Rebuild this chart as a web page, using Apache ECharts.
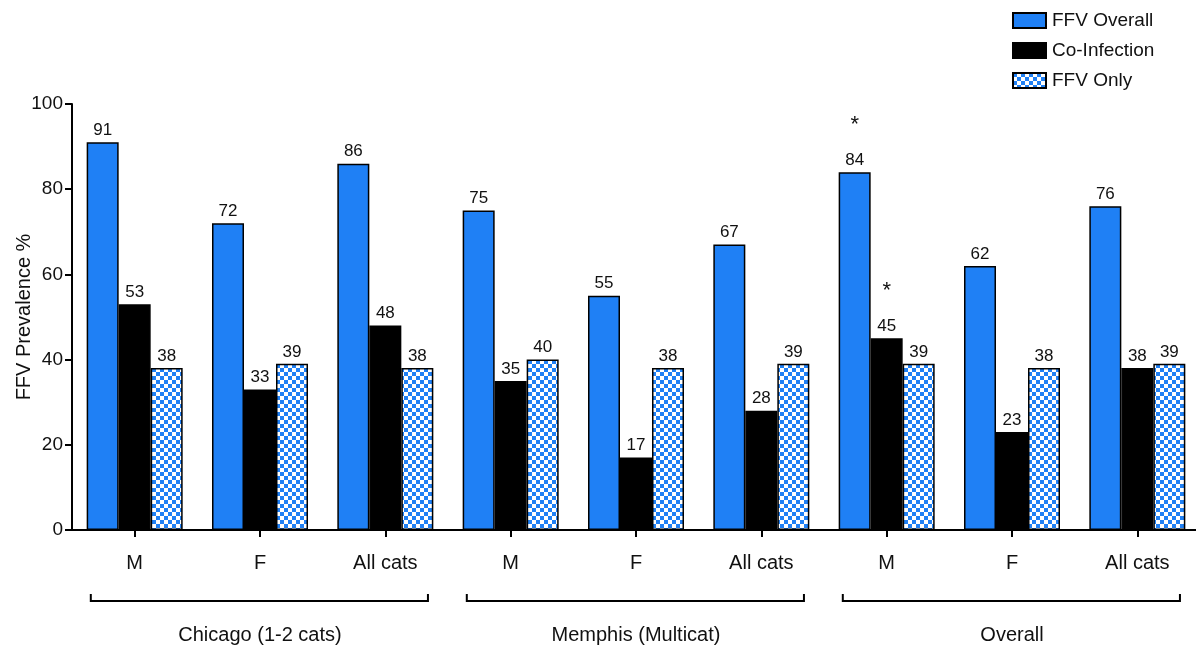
<!DOCTYPE html>
<html>
<head>
<meta charset="utf-8">
<script src="https://cdn.jsdelivr.net/npm/echarts@6/dist/echarts.min.js"></script>
<style>
  html, body { margin: 0; padding: 0; background: #fff; }
  #chart { width: 1196px; height: 648px; }
</style>
</head>
<body>
<div id="chart"></div>
<script>
// Category labels along the x axis and the three site groups they belong to
const categories = ['M', 'F', 'All cats', 'M', 'F', 'All cats', 'M', 'F', 'All cats'];
const groupNames = ['Chicago (1-2 cats)', 'Memphis (Multicat)', 'Overall'];
const groupSize = 3;

// Prevalence values (%) per series
const ffvOverall = [91, 72, 86, 75, 55, 67, 84, 62, 76];
const coInfection = [53, 33, 48, 35, 17, 28, 45, 23, 38];
const ffvOnly = [38, 39, 38, 40, 38, 39, 39, 38, 39];

// Significance markers shown above a bar's value
const ffvOverallSig = ['', '', '', '', '', '', '*', '', ''];
const coInfectionSig = ['', '', '', '', '', '', '*', '', ''];

// Y axis ticks
const yTicks = [0, 20, 40, 60, 80, 100];

const FONT = '"Liberation Sans", Arial, Helvetica, sans-serif';
const BLUE = '#1f80f5';

// Blue/white checkerboard fill for the "FFV Only" bars
function checkerPattern() {
  const c = document.createElement('canvas');
  const s = 4;
  c.width = s * 2; c.height = s * 2;
  const ctx = c.getContext('2d');
  ctx.fillStyle = '#ffffff';
  ctx.fillRect(0, 0, s * 2, s * 2);
  ctx.fillStyle = BLUE;
  ctx.fillRect(0, 0, s, s);
  ctx.fillRect(s, s, s, s);
  return { image: c, repeat: 'repeat' };
}

function valueLabel(sig) {
  return {
    show: true,
    position: 'top',
    distance: 3,
    color: '#111',
    fontFamily: FONT,
    fontSize: 17,
    formatter: p => sig[p.dataIndex] ? '{a|' + sig[p.dataIndex] + '}\n{v|' + p.value + '}' : '{v|' + p.value + '}',
    rich: {
      a: { fontSize: 22, fontFamily: FONT, color: '#111', lineHeight: 52 },
      v: { fontSize: 17, fontFamily: FONT, color: '#111', lineHeight: 18 }
    }
  };
}

const chart = echarts.init(document.getElementById('chart'), null, { renderer: 'canvas' });

const option = {
  animation: false,
  backgroundColor: '#ffffff',
  textStyle: { fontFamily: FONT },
  legend: {
    orient: 'vertical',
    left: 1007,
    top: 6,
    itemWidth: 33,
    itemHeight: 15,
    itemGap: 11,
    icon: 'rect',
    textStyle: { fontFamily: FONT, fontSize: 19, color: '#111', padding: [0, 0, 0, 1] },
    data: ['FFV Overall', 'Co-Infection', 'FFV Only']
  },
  grid: { left: 72, right: -4, top: 104, bottom: 118, containLabel: false, outerBoundsMode: 'none' },
  xAxis: {
    type: 'category',
    data: categories,
    axisLine: { lineStyle: { color: '#000', width: 2 } },
    axisTick: { show: true, alignWithLabel: true, length: 7, lineStyle: { color: '#000', width: 2 }, interval: 0 },
    axisLabel: { interval: 0, margin: 23, fontFamily: FONT, fontSize: 20, color: '#111' }
  },
  yAxis: {
    type: 'value',
    min: 0,
    max: 100,
    interval: 20,
    name: 'FFV Prevalence %',
    nameLocation: 'middle',
    nameGap: 38,
    nameMoveOverlap: false,
    nameTextStyle: { fontFamily: FONT, fontSize: 20, color: '#111' },
    splitLine: { show: false },
    axisLine: { show: true, lineStyle: { color: '#000', width: 2 } },
    axisTick: { show: true, length: 7, lineStyle: { color: '#000', width: 2 } },
    axisLabel: {
      margin: 9, fontFamily: FONT, fontSize: 19, color: '#111',
      formatter: v => yTicks.includes(v) ? String(v) : ''
    }
  },
  series: [
    {
      name: 'FFV Overall', type: 'bar', data: ffvOverall,
      barWidth: 32, barGap: '0%',
      itemStyle: { color: BLUE, borderColor: '#000', borderWidth: 1.5 },
      label: valueLabel(ffvOverallSig)
    },
    {
      name: 'Co-Infection', type: 'bar', data: coInfection,
      barWidth: 32, barGap: '0%',
      itemStyle: { color: '#000', borderColor: '#000', borderWidth: 1.5 },
      label: valueLabel(coInfectionSig)
    },
    {
      name: 'FFV Only', type: 'bar', data: ffvOnly,
      barWidth: 32, barGap: '0%',
      itemStyle: { color: checkerPattern(), borderColor: '#000', borderWidth: 1.5 },
      label: valueLabel(ffvOnly.map(() => ''))
    }
  ]
};

chart.setOption(option);

// Group brackets and group names under the category labels
function drawGroups() {
  const x0 = chart.convertToPixel({ xAxisIndex: 0 }, 0);
  const x1 = chart.convertToPixel({ xAxisIndex: 0 }, 1);
  const band = x1 - x0;
  const yAxis0 = chart.convertToPixel({ yAxisIndex: 0 }, 0);
  const bracketY = yAxis0 + 71;
  const elements = [];
  groupNames.forEach((name, g) => {
    const first = chart.convertToPixel({ xAxisIndex: 0 }, g * groupSize);
    const last = chart.convertToPixel({ xAxisIndex: 0 }, g * groupSize + groupSize - 1);
    const mid = (first + last) / 2;
    const l = first - band * 0.35;
    const r = last + band * 0.34;
    elements.push({
      type: 'polyline',
      silent: true,
      shape: { points: [[l, bracketY - 7], [l, bracketY], [r, bracketY], [r, bracketY - 7]] },
      style: { stroke: '#000', lineWidth: 2, fill: null }
    });
    elements.push({
      type: 'text',
      silent: true,
      x: mid,
      y: bracketY + 34,
      style: {
        text: name, fontFamily: FONT, fontSize: 20, fill: '#111',
        align: 'center', verticalAlign: 'middle'
      }
    });
  });
  chart.setOption({ graphic: { elements } });
}
drawGroups();
</script>
</body>
</html>
